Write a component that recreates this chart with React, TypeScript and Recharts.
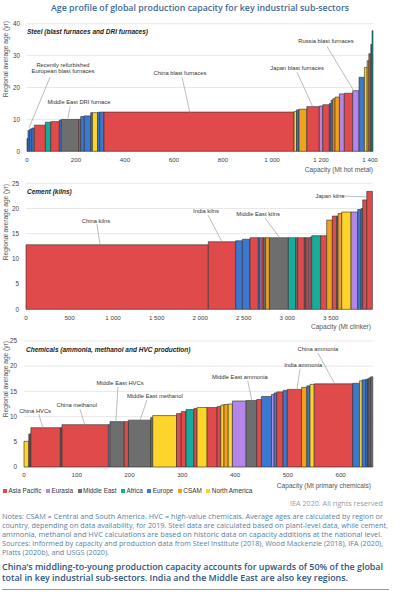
import { ComposedChart, Line, XAxis, YAxis, CartesianGrid, ReferenceArea, ReferenceLine, ReferenceDot } from "recharts";

// region codes -> legend name / colour
const regionCodes = ["AP", "EA", "ME", "AF", "EU", "CS", "NA"];
const regionNames = ["Asia Pacific", "Eurasia", "Middle East", "Africa", "Europe", "CSAM", "North America"];
const regionColors = ["#e04a4a", "#b386e8", "#6e6e6e", "#15ad9a", "#3b78cf", "#f1a21d", "#fdd42b"];

// Steel: capacity width of each block (Mt hot metal) and average age (yr)
const steelRegion = ["AP", "EU", "EU", "EU", "AP", "AF", "AP", "EU", "ME", "AP", "EU", "EU", "EU", "NA", "EU", "EU", "AP", "NA", "EU", "CS", "AP", "EA", "AP", "EU", "AP", "CS", "CS", "EA", "AP", "EA", "EU", "NA", "CS", "AP", "AF", "AF"];
const steelCapacity = [4, 7, 9, 10, 45, 22, 35, 8, 71, 8, 15, 26, 7, 21, 9, 17, 776, 10, 10, 32, 51, 14, 27, 7, 7, 9, 18, 20, 34, 26, 22, 11, 7, 8, 5, 4];
const steelAge = [4.0, 6.5, 7.0, 7.3, 8.2, 9.1, 9.3, 9.8, 10.0, 10.0, 10.9, 11.1, 12.1, 12.1, 12.2, 12.3, 12.3, 12.5, 13.0, 13.2, 14.0, 14.2, 14.6, 15.0, 16.0, 16.5, 17.0, 18.0, 18.2, 19.0, 23.2, 26.3, 28.4, 30.6, 33.5, 37.8];
const steelXTicks = [0, 200, 400, 600, 800, 1000, 1200, 1400];
const steelYTicks = [0, 10, 20, 30, 40];

// Cement (Mt clinker)
const cementRegion = ["AP", "AP", "EU", "EU", "AP", "EU", "EA", "AP", "ME", "CS", "ME", "AF", "ME", "AP", "ME", "AP", "EA", "AP", "AF", "AP", "CS", "AP", "EU", "CS", "NA", "EA", "EU", "ME", "AP", "AP"];
const cementCapacity = [2094, 314, 77, 88, 95, 20, 23, 19, 23, 42, 218, 84, 23, 77, 19, 27, 19, 19, 103, 69, 65, 50, 16, 42, 107, 76, 39, 19, 46, 65];
const cementAge = [12.8, 13.4, 13.6, 13.9, 14.2, 14.2, 14.2, 14.2, 14.2, 14.2, 14.2, 14.2, 14.2, 14.2, 14.2, 14.2, 14.2, 14.3, 14.6, 14.6, 17.7, 18.5, 18.5, 19.0, 19.3, 19.3, 19.8, 20.0, 21.7, 23.4];
const cementXTicks = [0, 500, 1000, 1500, 2000, 2500, 3000, 3500];
const cementYTicks = [0, 5, 10, 15, 20, 25];

// Chemicals (Mt primary chemicals)
const chemRegion = ["NA", "AP", "ME", "AP", "ME", "AP", "EA", "ME", "AP", "ME", "ME", "NA", "AP", "AP", "AF", "AP", "NA", "AP", "AP", "NA", "CS", "NA", "EA", "ME", "AP", "EU", "EA", "EU", "AP", "EU", "AP", "CS", "EU", "NA", "AP", "EU", "NA", "EU", "EU", "ME", "AP", "ME"];
const chemCapacity = [9, 2, 2, 56, 3, 88, 3, 27, 8, 42, 4, 45, 9, 9, 15, 6, 19, 19, 7, 6, 8, 8, 26, 20, 9, 19, 5, 5, 12, 8, 27, 10, 6, 8, 73, 13, 5, 7, 3, 3, 3, 4];
const chemAge = [5.1, 6.5, 6.6, 7.8, 7.8, 8.4, 8.4, 9.0, 9.0, 9.3, 9.8, 10.2, 10.6, 11.0, 11.4, 11.6, 11.8, 11.8, 12.0, 12.3, 12.4, 12.5, 13.1, 13.2, 13.4, 14.0, 14.4, 14.7, 14.9, 15.2, 15.4, 15.8, 16.1, 16.4, 16.5, 16.6, 17.1, 17.3, 17.4, 17.5, 17.7, 17.9];
const chemXTicks = [0, 100, 200, 300, 400, 500, 600];
const chemYTicks = [0, 5, 10, 15, 20, 25];

// callouts: label position, leader line start and end (in data units)
const steelNotes = [
  { text: ["Recently refurbished", "European blast furnaces"], at: [147, 26.2], from: [94, 23.2], to: [8, 7.3] },
  { text: ["Middle East DRI furnace"], at: [212, 15.4], from: [176, 14.1], to: [167, 10.4] },
  { text: ["China blast furnaces"], at: [624, 24.5], from: [633, 23.2], to: [665, 12.0] },
  { text: ["Japan blast furnaces"], at: [1102, 26.0], from: [1102, 24.8], to: [1167, 13.8] },
  { text: ["Russia blast furnaces"], at: [1220, 34.5], from: [1224, 32.9], to: [1335, 18.8] },
];
const cementNotes = [
  { text: ["China kilns"], at: [804, 17.5], from: [815, 16.9], to: [850, 12.8] },
  { text: ["India kilns"], at: [2067, 19.5], from: [2090, 18.7], to: [2251, 13.4] },
  { text: ["Middle East kilns"], at: [2665, 18.9], from: [2745, 18.1], to: [2917, 14.1] },
  { text: ["Japan kilns"], at: [3491, 22.5], from: [3606, 22.5], to: [3916, 22.3] },
];
const chemNotes = [
  { text: ["China HVCs"], at: [21, 11.1], from: [28, 10.5], to: [36, 7.7] },
  { text: ["China methanol"], at: [100, 12.3], from: [106, 11.5], to: [116, 8.1] },
  { text: ["Middle East HVCs"], at: [182, 16.7], from: [178, 15.9], to: [174, 8.9] },
  { text: ["Middle East methanol"], at: [248, 14.1], from: [233, 13.3], to: [220, 9.3] },
  { text: ["Middle East ammonia"], at: [409, 17.9], from: [424, 17.1], to: [432, 13.1] },
  { text: ["India ammonia"], at: [529, 20.2], from: [523, 19.4], to: [517, 15.3] },
  { text: ["China ammonia"], at: [557, 23.4], from: [557, 22.6], to: [589, 16.5] },
];

const CHART_FONT = "'Liberation Sans', Arial, sans-serif";
const TEXT_FONT = "'Open Sans', 'Noto Sans', sans-serif";

function buildBlocks(region: string[], capacity: number[], age: number[]) {
  let start = 0;
  return capacity.map((w, i) => {
    const b = { start, end: start + w, age: age[i], color: regionColors[regionCodes.indexOf(region[i])] };
    start += w;
    return b;
  });
}

const fmt = (v: number) => (v >= 1000 ? `${Math.floor(v / 1000)} ${String(v % 1000).padStart(3, "0")}` : String(v));

type Note = { text: string[]; at: number[]; from: number[]; to: number[] };

function Panel(props: {
  top: number; height: number; marginTop: number; marginRight: number; yWidth: number; xHeight: number;
  xMax: number; xTicks: number[]; yMax: number; yTicks: number[];
  blocks: { start: number; end: number; age: number; color: string }[]; notes: Note[];
}) {
  const p = props;
  return (
    <div style={{ position: "absolute", top: p.top, left: 0 }}>
      <ComposedChart width={400} height={p.height} data={p.blocks} margin={{ top: p.marginTop, right: p.marginRight, bottom: 0, left: 0 }}>
        <CartesianGrid vertical={false} stroke="#dedede" strokeWidth={0.7} />
        <XAxis type="number" dataKey="start" domain={[0, p.xMax]} allowDataOverflow ticks={p.xTicks} tickFormatter={fmt}
          height={p.xHeight} tickLine={false} axisLine={false} tickSize={0} tickMargin={6} interval={0}
          tick={{ fontSize: 6.2, fill: "#444", fontFamily: CHART_FONT }} />
        <YAxis type="number" domain={[0, p.yMax]} allowDataOverflow ticks={p.yTicks} width={p.yWidth}
          tickLine={false} axisLine={false} tickSize={0} tickMargin={7} interval={0}
          tick={{ fontSize: 6.4, fill: "#444", fontFamily: CHART_FONT }} />
        {p.blocks.map((b, i) => (
          <ReferenceArea key={"b" + i} x1={b.start} x2={b.end} y1={0} y2={b.age} fill={b.color} fillOpacity={1}
            stroke="#2e2e2e" strokeWidth={0.6} ifOverflow="visible" />
        ))}
        <Line dataKey="age" type="stepAfter" stroke="none" dot={false} activeDot={false} isAnimationActive={false} />
        {p.notes.map((n, i) => (
          <ReferenceLine key={"l" + i} segment={[{ x: n.from[0], y: n.from[1] }, { x: n.to[0], y: n.to[1] }]}
            stroke="#8f8f8f" strokeWidth={0.6} ifOverflow="visible" />
        ))}
        {p.notes.map((n, i) => (
          <ReferenceDot key={"t" + i} x={n.at[0]} y={n.at[1]} r={1} ifOverflow="visible"
            shape={(s: any) => (
              <text x={s.cx} y={s.cy} textAnchor="middle" fontSize={5.8} fill="#333" fontFamily={CHART_FONT}>
                {n.text.map((t, j) => (
                  <tspan key={j} x={s.cx} dy={j === 0 ? (n.text.length > 1 ? -1.2 : 2) : 6.4}>{t}</tspan>
                ))}
              </text>
            )} />
        ))}
      </ComposedChart>
    </div>
  );
}

const steelBlocks = buildBlocks(steelRegion, steelCapacity, steelAge);
const cementBlocks = buildBlocks(cementRegion, cementCapacity, cementAge);
const chemBlocks = buildBlocks(chemRegion, chemCapacity, chemAge);

// text lines below the chart with their measured widths in the reference
const noteLines = [
  { t: "Notes: CSAM = Central and South America. HVC = high-value chemicals. Average ages are calculated by region or", w: 381 },
  { t: "country, depending on data availability, for 2019. Steel data are calculated based on plant-level data, while cement,", w: 386 },
  { t: "ammonia, methanol and HVC calculations are based on historic data on capacity additions at the national level.", w: 380 },
  { t: "Sources: Informed by capacity and production data from Steel Institute (2018), Wood Mackenzie (2018), IFA (2020),", w: 381 },
  { t: "Platts (2020b), and USGS (2020).", w: 107 },
];
const keyLines = [
  { t: "China\u2019s middling-to-young production capacity accounts for upwards of 50% of the global", w: 381 },
  { t: "total in key industrial sub-sectors. India and the Middle East are also key regions.", w: 346 },
];

export default function App() {
  const yLabel = "Regional average age (yr)";
  const noteY = [518.5, 527.5, 536.5, 546, 555];
  const keyY = [569.5, 580.5];
  return (
    <div style={{ position: "absolute", top: 0, left: 0, width: 400, height: 608, background: "#fff", overflow: "hidden" }}>
      <Panel top={12} height={164} marginTop={11.7} marginRight={27} yWidth={27} xHeight={24.7}
        xMax={1412} xTicks={steelXTicks} yMax={40} yTicks={steelYTicks} blocks={steelBlocks} notes={steelNotes} />
      <Panel top={176} height={160} marginTop={7.3} marginRight={27.6} yWidth={26} xHeight={26.7}
        xMax={3978} xTicks={cementXTicks} yMax={25} yTicks={cementYTicks} blocks={cementBlocks} notes={cementNotes} />
      <Panel top={336} height={154} marginTop={5} marginRight={27.2} yWidth={24} xHeight={23}
        xMax={661} xTicks={chemXTicks} yMax={25} yTicks={chemYTicks} blocks={chemBlocks} notes={chemNotes} />

      <svg width={400} height={608} style={{ position: "absolute", top: 0, left: 0, pointerEvents: "none" }}>
        <text x={51} y={10.5} fontSize={9.4} fontWeight={600} fill="#3b6a9c" fontFamily={TEXT_FONT}
          textLength={298} lengthAdjust="spacingAndGlyphs">
          Age profile of global production capacity for key industrial sub-sectors
        </text>
        <g fontFamily={CHART_FONT} fontSize={6.5} fontWeight={700} fontStyle="italic" fill="#222">
          <text x={27} y={34}>Steel (blast furnaces and DRI furnaces)</text>
          <text x={27} y={193.5}>Cement (kilns)</text>
          <text x={26} y={351.5}>Chemicals (ammonia, methanol and HVC production)</text>
        </g>
        <g fontFamily={CHART_FONT} fontSize={6.6} fill="#555">
          <text x={8} y={21} textAnchor="end" transform="rotate(-90 8 21)">{yLabel}</text>
          <text x={8} y={184} textAnchor="end" transform="rotate(-90 8 184)">{yLabel}</text>
          <text x={8} y={341} textAnchor="end" transform="rotate(-90 8 341)">{yLabel}</text>
          <text x={373} y={172.3} textAnchor="end">Capacity (Mt hot metal)</text>
          <text x={371} y={329} textAnchor="end">Capacity (Mt clinker)</text>
          <text x={371} y={488} textAnchor="end">Capacity (Mt primary chemicals)</text>
        </g>
        <text x={290} y={506} fontSize={6.8} fill="#9a9a9a" fontFamily={TEXT_FONT} textLength={93} lengthAdjust="spacingAndGlyphs">
          IEA 2020. All rights reserved
        </text>
        <g fontFamily={TEXT_FONT} fontSize={7} fill="#5b80a0">
          {noteLines.map((l, i) => (
            <text key={i} x={2} y={noteY[i]} textLength={l.w} lengthAdjust="spacingAndGlyphs">{l.t}</text>
          ))}
        </g>
        <g fontFamily={TEXT_FONT} fontSize={8.8} fontWeight={600} fill="#2c5482">
          {keyLines.map((l, i) => (
            <text key={i} x={2} y={keyY[i]} textLength={l.w} lengthAdjust="spacingAndGlyphs">{l.t}</text>
          ))}
        </g>
        <line x1={2} x2={389} y1={589.5} y2={589.5} stroke="#8d9aa9" strokeWidth={1} />
      </svg>

      <div style={{ position: "absolute", top: 487, left: 3, display: "flex", gap: 4.6, fontFamily: CHART_FONT, fontSize: 6.4, color: "#333", lineHeight: "8px" }}>
        {regionNames.map((r, i) => (
          <div key={r} style={{ display: "flex", alignItems: "center", gap: 1.4 }}>
            <span style={{ width: 4, height: 4, background: regionColors[i], display: "inline-block" }} />
            <span>{r}</span>
          </div>
        ))}
      </div>
    </div>
  );
}
